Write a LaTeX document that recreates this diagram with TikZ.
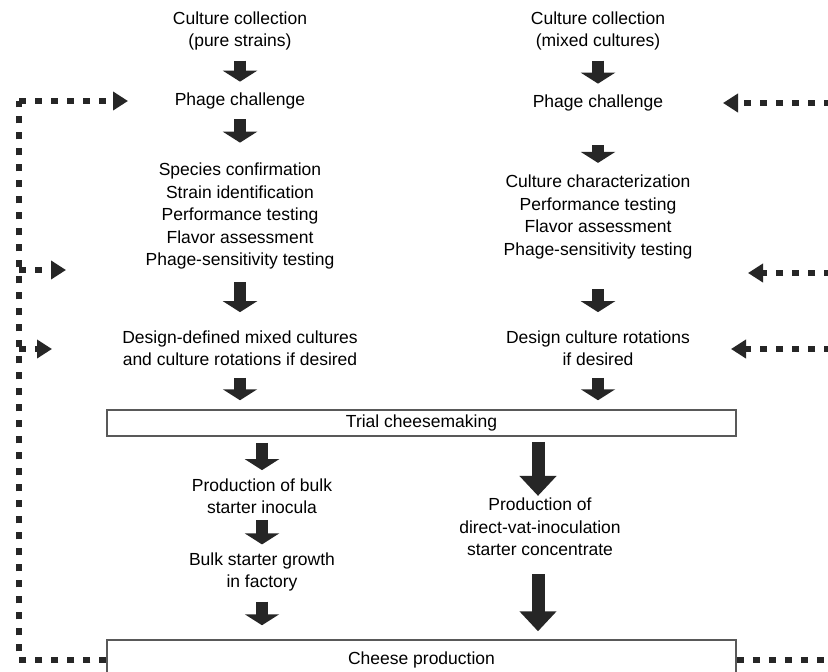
\documentclass[tikz,border=0pt]{standalone}
\usepackage{fontspec}
\setmainfont{Liberation Sans}
\usetikzlibrary{arrows.meta}
\begin{document}
\begin{tikzpicture}[x=1pt,y=-1pt,
  txt/.style={align=center,inner sep=0pt,font=\fontsize{17.5}{22.5}\selectfont,text=black},
  stage/.style={draw=black!65,line width=1.5pt,minimum width=629pt,inner sep=0pt,fill=white,
    align=center,font=\fontsize{17.5}{22.5}\selectfont,text=black},
  fat/.style={draw=black!85,line width=12pt,-{Triangle[length=11pt,width=34pt]}},
  bigfat/.style={fat,line width=13pt,-{Triangle[length=20pt,width=36pt]}},
  loopline/.style={draw=black!85,line width=6pt,dash pattern=on 7pt off 9pt},
  looptip/.style={loopline,-{Triangle[length=15pt,width=18pt]}}]
\useasboundingbox (0,0) rectangle (828,672);
\fill[white] (0,0) rectangle (828,672);

% left branch: pure strains
\node[txt] (cc1) at (240,31) {Culture collection\\(pure strains)};
\node[txt] (pc1) at (240,101) {Phage challenge};
\node[txt] (sp)  at (240,216) {Species confirmation\\Strain identification\\Performance testing\\Flavor assessment\\Phage-sensitivity testing};
\node[txt] (dd)  at (240,348) {Design-defined mixed cultures\\and culture rotations if desired};

% right branch: mixed cultures
\node[txt] (cc2) at (598,31) {Culture collection\\(mixed cultures)};
\node[txt] (pc2) at (598,103) {Phage challenge};
\node[txt] (ch)  at (598,217) {Culture characterization\\Performance testing\\Flavor assessment\\Phage-sensitivity testing};
\node[txt] (dc)  at (598,348) {Design culture rotations\\if desired};

% common stages
\node[stage,minimum height=26pt] (trial) at (421.5,423) {Trial cheesemaking};
\node[txt] (pb) at (262,496) {Production of bulk\\starter inocula};
\node[txt] (bs) at (262,572) {Bulk starter growth\\in factory};
\node[txt] (dv) at (540,527) {Production of\\direct-vat-inoculation\\starter concentrate};
\node[stage,minimum height=40pt] (cheese) at (421.5,660) {Cheese production};

% main flow
\draw[fat,shorten <=10pt,shorten >=11pt] (cc1) -- (pc1);
\draw[fat,shorten <=10pt,shorten >=11pt] (cc2) -- (pc2);
\draw[fat,shorten <=10pt,shorten >=20pt] (pc1.south) -- (sp.north);
\draw[fat,shorten <=34pt,shorten >=12pt] (pc2.south) -- (ch.north);
\draw[fat,shorten <=13pt,shorten >=18pt] (sp.south) -- (dd.north);
\draw[fat,shorten <=30pt,shorten >=18pt] (ch.south) -- (dc.north);
\draw[fat,shorten <=12pt,shorten >=9pt] (dd.south) -- (trial.north -| dd.south);
\draw[fat,shorten <=12pt,shorten >=9pt] (dc.south) -- (trial.north -| dc.south);
\draw[fat,shorten <=6pt,shorten >=8pt] (trial.south -| pb.north) -- (pb.north);
\draw[fat,shorten <=6pt,shorten >=8pt] (pb.south) -- (bs.north);
\draw[fat,shorten <=10pt,shorten >=14pt] (bs.south) -- (cheese.north -| bs.south);
\draw[bigfat,shorten <=5pt,shorten >=2pt] ([xshift=-2pt]trial.south -| dv.north) -- ([xshift=-2pt]dv.north);
\draw[bigfat,shorten <=18pt,shorten >=8pt] ([xshift=-2pt]dv.south) -- ([xshift=-2pt]cheese.north -| dv.south);

% feedback loops from cheese production
\coordinate (LB) at (19,660);
\coordinate (L1) at (19,101);
\coordinate (L2) at (19,270);
\coordinate (L3) at (19,349);
\coordinate (tL1) at (128,101);
\coordinate (tL2) at (66,270);
\coordinate (tL3) at (52,349);
\coordinate (RB) at (831,660);
\coordinate (R1) at (831,103);
\coordinate (R2) at (831,273);
\coordinate (R3) at (831,349);
\coordinate (tR1) at (723,103);
\coordinate (tR2) at (748,273);
\coordinate (tR3) at (731,349);

\draw[loopline] (cheese.west |- LB) -- (LB) -- (L1);
\draw[looptip] (L1) -- (tL1);
\draw[looptip] (L2) -- (tL2);
\draw[looptip] (L3) -- (tL3);
\draw[loopline] (cheese.east |- RB) -- (RB) -- (R1);
\draw[looptip] (R1) -- (tR1);
\draw[looptip] (R2) -- (tR2);
\draw[looptip] (R3) -- (tR3);
\end{tikzpicture}
\end{document}
